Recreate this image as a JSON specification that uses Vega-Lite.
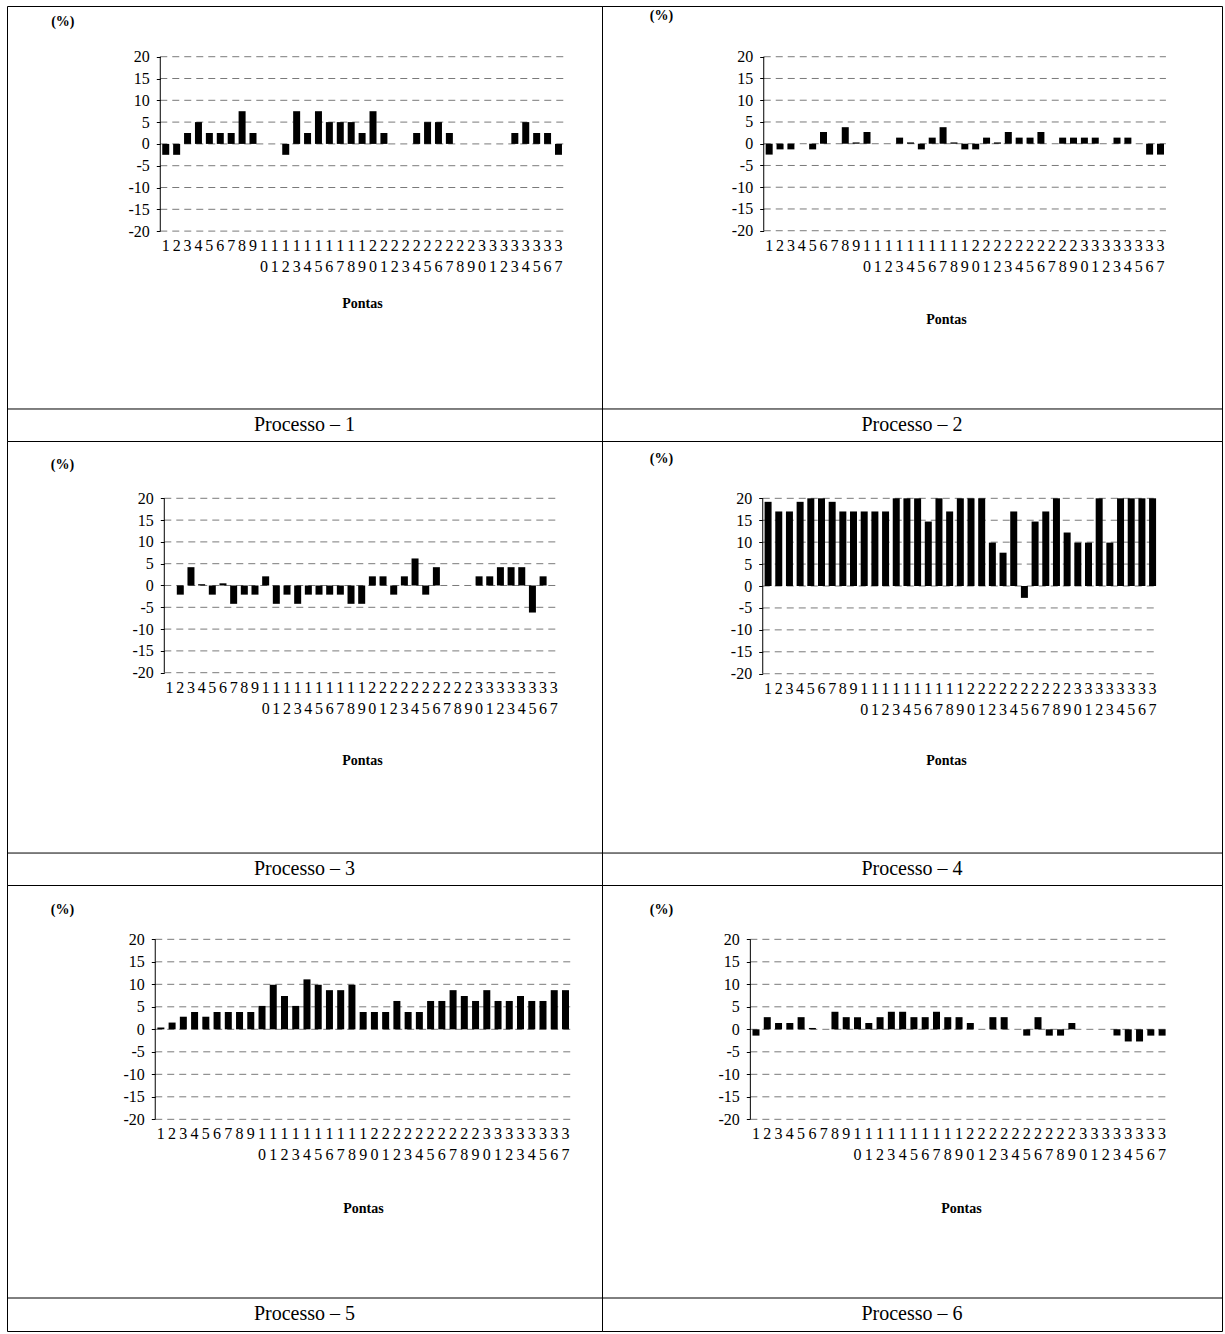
{
  "$schema": "https://vega.github.io/schema/vega-lite/v6.json",
  "background": "white",
  "padding": {"left": 6, "top": 5, "right": 0, "bottom": 0},
  "spacing": 0,
  "bounds": "flush",
  "align": "each",
  "columns": 2,
  "datasets": {
    "grid": [{"g": -20}, {"g": -15}, {"g": -10}, {"g": -5}, {"g": 0}, {"g": 5}, {"g": 10}, {"g": 15}, {"g": 20}],
    "p1": [{"n":1,"v":-2.5},{"n":2,"v":-2.5},{"n":3,"v":2.5},{"n":4,"v":5},{"n":5,"v":2.5},{"n":6,"v":2.5},{"n":7,"v":2.5},{"n":8,"v":7.5},{"n":9,"v":2.5},{"n":10,"v":0},{"n":11,"v":0},{"n":12,"v":-2.5},{"n":13,"v":7.5},{"n":14,"v":2.5},{"n":15,"v":7.5},{"n":16,"v":5},{"n":17,"v":5},{"n":18,"v":5},{"n":19,"v":2.5},{"n":20,"v":7.5},{"n":21,"v":2.5},{"n":22,"v":0},{"n":23,"v":0},{"n":24,"v":2.5},{"n":25,"v":5},{"n":26,"v":5},{"n":27,"v":2.5},{"n":28,"v":0},{"n":29,"v":0},{"n":30,"v":0},{"n":31,"v":0},{"n":32,"v":0},{"n":33,"v":2.5},{"n":34,"v":5},{"n":35,"v":2.5},{"n":36,"v":2.5},{"n":37,"v":-2.5}],
    "p2": [{"n":1,"v":-2.5},{"n":2,"v":-1.3},{"n":3,"v":-1.3},{"n":4,"v":0},{"n":5,"v":-1.3},{"n":6,"v":2.7},{"n":7,"v":0},{"n":8,"v":3.8},{"n":9,"v":0.3},{"n":10,"v":2.7},{"n":11,"v":0},{"n":12,"v":0},{"n":13,"v":1.4},{"n":14,"v":0.3},{"n":15,"v":-1.3},{"n":16,"v":1.4},{"n":17,"v":3.8},{"n":18,"v":0.3},{"n":19,"v":-1.3},{"n":20,"v":-1.3},{"n":21,"v":1.4},{"n":22,"v":0.3},{"n":23,"v":2.7},{"n":24,"v":1.4},{"n":25,"v":1.4},{"n":26,"v":2.7},{"n":27,"v":0},{"n":28,"v":1.4},{"n":29,"v":1.4},{"n":30,"v":1.4},{"n":31,"v":1.4},{"n":32,"v":0},{"n":33,"v":1.4},{"n":34,"v":1.4},{"n":35,"v":0},{"n":36,"v":-2.5},{"n":37,"v":-2.5}],
    "p3": [{"n":1,"v":0},{"n":2,"v":-2.1},{"n":3,"v":4.2},{"n":4,"v":0.3},{"n":5,"v":-2.1},{"n":6,"v":0.5},{"n":7,"v":-4.2},{"n":8,"v":-2.1},{"n":9,"v":-2.1},{"n":10,"v":2.1},{"n":11,"v":-4.2},{"n":12,"v":-2.1},{"n":13,"v":-4.2},{"n":14,"v":-2.1},{"n":15,"v":-2.1},{"n":16,"v":-2.1},{"n":17,"v":-2.1},{"n":18,"v":-4.2},{"n":19,"v":-4.2},{"n":20,"v":2.1},{"n":21,"v":2.1},{"n":22,"v":-2.1},{"n":23,"v":2.1},{"n":24,"v":6.2},{"n":25,"v":-2.1},{"n":26,"v":4.2},{"n":27,"v":0},{"n":28,"v":0},{"n":29,"v":0},{"n":30,"v":2.1},{"n":31,"v":2.1},{"n":32,"v":4.2},{"n":33,"v":4.2},{"n":34,"v":4.2},{"n":35,"v":-6.2},{"n":36,"v":2.1},{"n":37,"v":0}],
    "p4": [{"n":1,"v":19.2},{"n":2,"v":17},{"n":3,"v":17},{"n":4,"v":19.2},{"n":5,"v":20},{"n":6,"v":20},{"n":7,"v":19.2},{"n":8,"v":17},{"n":9,"v":17},{"n":10,"v":17},{"n":11,"v":17},{"n":12,"v":17},{"n":13,"v":20},{"n":14,"v":20},{"n":15,"v":20},{"n":16,"v":14.7},{"n":17,"v":20},{"n":18,"v":17},{"n":19,"v":20},{"n":20,"v":20},{"n":21,"v":20},{"n":22,"v":9.9},{"n":23,"v":7.6},{"n":24,"v":17},{"n":25,"v":-2.7},{"n":26,"v":14.7},{"n":27,"v":17},{"n":28,"v":20},{"n":29,"v":12.2},{"n":30,"v":9.9},{"n":31,"v":9.9},{"n":32,"v":20},{"n":33,"v":9.9},{"n":34,"v":20},{"n":35,"v":20},{"n":36,"v":20},{"n":37,"v":20}],
    "p5": [{"n":1,"v":0.4},{"n":2,"v":1.5},{"n":3,"v":2.8},{"n":4,"v":3.85},{"n":5,"v":2.8},{"n":6,"v":3.85},{"n":7,"v":3.85},{"n":8,"v":3.85},{"n":9,"v":3.85},{"n":10,"v":5.2},{"n":11,"v":9.9},{"n":12,"v":7.4},{"n":13,"v":5.2},{"n":14,"v":11.1},{"n":15,"v":9.9},{"n":16,"v":8.7},{"n":17,"v":8.7},{"n":18,"v":9.9},{"n":19,"v":3.85},{"n":20,"v":3.85},{"n":21,"v":3.85},{"n":22,"v":6.3},{"n":23,"v":3.85},{"n":24,"v":3.85},{"n":25,"v":6.3},{"n":26,"v":6.3},{"n":27,"v":8.7},{"n":28,"v":7.4},{"n":29,"v":6.3},{"n":30,"v":8.7},{"n":31,"v":6.3},{"n":32,"v":6.3},{"n":33,"v":7.4},{"n":34,"v":6.3},{"n":35,"v":6.3},{"n":36,"v":8.7},{"n":37,"v":8.7}],
    "p6": [{"n":1,"v":-1.4},{"n":2,"v":2.7},{"n":3,"v":1.4},{"n":4,"v":1.4},{"n":5,"v":2.7},{"n":6,"v":0.3},{"n":7,"v":0},{"n":8,"v":3.9},{"n":9,"v":2.7},{"n":10,"v":2.7},{"n":11,"v":1.4},{"n":12,"v":2.7},{"n":13,"v":3.9},{"n":14,"v":3.9},{"n":15,"v":2.7},{"n":16,"v":2.7},{"n":17,"v":3.9},{"n":18,"v":2.7},{"n":19,"v":2.7},{"n":20,"v":1.4},{"n":21,"v":0},{"n":22,"v":2.7},{"n":23,"v":2.7},{"n":24,"v":0},{"n":25,"v":-1.4},{"n":26,"v":2.7},{"n":27,"v":-1.4},{"n":28,"v":-1.4},{"n":29,"v":1.4},{"n":30,"v":0},{"n":31,"v":0},{"n":32,"v":0},{"n":33,"v":-1.4},{"n":34,"v":-2.7},{"n":35,"v":-2.7},{"n":36,"v":-1.4},{"n":37,"v":-1.4}]
  },
  "concat": [
    {
      "width": 595, "height": 435,
      "layer": [
        {"data": {"name": "grid"}, "mark": {"type": "rule", "color": "#7a7a7a", "strokeDash": [7, 5]},
         "encoding": {"y": {"field": "g", "type": "quantitative"}, "x": {"datum": 0.5, "type": "quantitative"}, "x2": {"datum": 37.5}}},
        {"data": {"name": "p1"}, "mark": {"type": "bar", "orient": "vertical", "size": 7, "color": "black"},
         "encoding": {
           "x": {"field": "n", "type": "quantitative", "scale": {"domain": [-13.55, 40.99], "nice": false, "zero": false, "padding": 0}, "axis": {"orient": "bottom", "offset": -209.9, "values": [1, 37], "labels": false, "domain": false, "ticks": false, "grid": false, "title": "Pontas", "titleX": 355, "titleY": 72, "titleAlign": "center", "titleBaseline": "middle", "titleFontSize": 14, "titleFontWeight": "bold"}},
           "y": {"field": "v", "type": "quantitative", "scale": {"domain": [-68.14, 31.63], "nice": false, "zero": false}, "axis": {"orient": "left", "offset": -153.3, "values": [-20,-15,-10,-5,0,5,10,15,20], "labelExpr": "datum.value < 0 ? '-' + (-datum.value) : '' + datum.value", "domain": false, "ticks": true, "tickSize": 4, "tickColor": "black", "grid": false, "labelPadding": 7, "labelOverlap": false, "title": "(%)", "titleAngle": 0, "titleX": -98, "titleY": 15, "titleAlign": "center", "titleBaseline": "middle", "titleFontSize": 14, "titleFontWeight": "bold"}}
         }},
        {"data": {"name": "p1"}, "mark": {"type": "text", "baseline": "top", "align": "center", "fontSize": 16, "lineHeight": 21, "color": "black", "text": {"expr": "datum.n > 9 ? [substring('' + datum.n, 0, 1), substring('' + datum.n, 1, 2)] : '' + datum.n"}},
         "encoding": {"x": {"field": "n", "type": "quantitative"}, "y": {"datum": -21.6, "type": "quantitative"}}},
        {"data": {"values": [{}]}, "mark": {"type": "rule", "color": "black"},
         "encoding": {"x": {"datum": 0.5, "type": "quantitative"}, "y": {"datum": -20, "type": "quantitative"}, "y2": {"datum": 20}}},
        {"data": {"values": [{"t": "Processo – 1"}]}, "mark": {"type": "rule", "color": "black"},
         "encoding": {"y": {"datum": -60.8, "type": "quantitative"}}},
        {"data": {"values": [{"t": "Processo – 1"}]}, "mark": {"type": "text", "fontSize": 20, "color": "black", "baseline": "middle"},
         "encoding": {"y": {"datum": -64.47, "type": "quantitative"}, "text": {"field": "t"}}}
      ]
    },
    {
      "width": 620, "height": 435,
      "layer": [
        {"data": {"name": "grid"}, "mark": {"type": "rule", "color": "#7a7a7a", "strokeDash": [7, 5]},
         "encoding": {"y": {"field": "g", "type": "quantitative"}, "x": {"datum": 0.5, "type": "quantitative"}, "x2": {"datum": 37.5}}},
        {"data": {"name": "p2"}, "mark": {"type": "bar", "orient": "vertical", "size": 7, "color": "black"},
         "encoding": {
           "x": {"field": "n", "type": "quantitative", "scale": {"domain": [-14.38, 42.66], "nice": false, "zero": false, "padding": 0}, "axis": {"orient": "bottom", "offset": -210.3, "values": [1, 37], "labels": false, "domain": false, "ticks": false, "grid": false, "title": "Pontas", "titleX": 344, "titleY": 89, "titleAlign": "center", "titleBaseline": "middle", "titleFontSize": 14, "titleFontWeight": "bold"}},
           "y": {"field": "v", "type": "quantitative", "scale": {"domain": [-68.34, 31.66], "nice": false, "zero": false}, "axis": {"orient": "left", "offset": -161.7, "values": [-20,-15,-10,-5,0,5,10,15,20], "labelExpr": "datum.value < 0 ? '-' + (-datum.value) : '' + datum.value", "domain": false, "ticks": true, "tickSize": 4, "tickColor": "black", "grid": false, "labelPadding": 7, "labelOverlap": false, "title": "(%)", "titleAngle": 0, "titleX": -102.7, "titleY": 9, "titleAlign": "center", "titleBaseline": "middle", "titleFontSize": 14, "titleFontWeight": "bold"}}
         }},
        {"data": {"name": "p2"}, "mark": {"type": "text", "baseline": "top", "align": "center", "fontSize": 16, "lineHeight": 21, "color": "black", "text": {"expr": "datum.n > 9 ? [substring('' + datum.n, 0, 1), substring('' + datum.n, 1, 2)] : '' + datum.n"}},
         "encoding": {"x": {"field": "n", "type": "quantitative"}, "y": {"datum": -21.6, "type": "quantitative"}}},
        {"data": {"values": [{}]}, "mark": {"type": "rule", "color": "black"},
         "encoding": {"x": {"datum": 0.5, "type": "quantitative"}, "y": {"datum": -20, "type": "quantitative"}, "y2": {"datum": 20}}},
        {"data": {"values": [{"t": "Processo – 2"}]}, "mark": {"type": "rule", "color": "black"},
         "encoding": {"y": {"datum": -60.98, "type": "quantitative"}}},
        {"data": {"values": [{"t": "Processo – 2"}]}, "mark": {"type": "text", "fontSize": 20, "color": "black", "baseline": "middle"},
         "encoding": {"y": {"datum": -64.66, "type": "quantitative"}, "text": {"field": "t"}}}
      ]
    },
    {
      "width": 595, "height": 444,
      "layer": [
        {"data": {"name": "grid"}, "mark": {"type": "rule", "color": "#7a7a7a", "strokeDash": [7, 5]},
         "encoding": {"y": {"field": "g", "type": "quantitative"}, "x": {"datum": 0.5, "type": "quantitative"}, "x2": {"datum": 37.5}}},
        {"data": {"name": "p3"}, "mark": {"type": "bar", "orient": "vertical", "size": 7, "color": "black"},
         "encoding": {
           "x": {"field": "n", "type": "quantitative", "scale": {"domain": [-14.24, 41.52], "nice": false, "zero": false, "padding": 0}, "axis": {"orient": "bottom", "offset": -212.3, "values": [1, 37], "labels": false, "domain": false, "ticks": false, "grid": false, "title": "Pontas", "titleX": 355, "titleY": 88, "titleAlign": "center", "titleBaseline": "middle", "titleFontSize": 14, "titleFontWeight": "bold"}},
           "y": {"field": "v", "type": "quantitative", "scale": {"domain": [-68.69, 33.14], "nice": false, "zero": false}, "axis": {"orient": "left", "offset": -157.3, "values": [-20,-15,-10,-5,0,5,10,15,20], "labelExpr": "datum.value < 0 ? '-' + (-datum.value) : '' + datum.value", "domain": false, "ticks": true, "tickSize": 4, "tickColor": "black", "grid": false, "labelPadding": 7, "labelOverlap": false, "title": "(%)", "titleAngle": 0, "titleX": -102.3, "titleY": 23, "titleAlign": "center", "titleBaseline": "middle", "titleFontSize": 14, "titleFontWeight": "bold"}}
         }},
        {"data": {"name": "p3"}, "mark": {"type": "text", "baseline": "top", "align": "center", "fontSize": 16, "lineHeight": 21, "color": "black", "text": {"expr": "datum.n > 9 ? [substring('' + datum.n, 0, 1), substring('' + datum.n, 1, 2)] : '' + datum.n"}},
         "encoding": {"x": {"field": "n", "type": "quantitative"}, "y": {"datum": -21.6, "type": "quantitative"}}},
        {"data": {"values": [{}]}, "mark": {"type": "rule", "color": "black"},
         "encoding": {"x": {"datum": 0.5, "type": "quantitative"}, "y": {"datum": -20, "type": "quantitative"}, "y2": {"datum": 20}}},
        {"data": {"values": [{"t": "Processo – 3"}]}, "mark": {"type": "rule", "color": "black"},
         "encoding": {"y": {"datum": -61.36, "type": "quantitative"}}},
        {"data": {"values": [{"t": "Processo – 3"}]}, "mark": {"type": "text", "fontSize": 20, "color": "black", "baseline": "middle"},
         "encoding": {"y": {"datum": -65.03, "type": "quantitative"}, "text": {"field": "t"}}}
      ]
    },
    {
      "width": 620, "height": 444,
      "layer": [
        {"data": {"name": "grid"}, "mark": {"type": "rule", "color": "#7a7a7a", "strokeDash": [7, 5]},
         "encoding": {"y": {"field": "g", "type": "quantitative"}, "x": {"datum": 0.5, "type": "quantitative"}, "x2": {"datum": 37.5}}},
        {"data": {"name": "p4"}, "mark": {"type": "bar", "orient": "vertical", "size": 7, "color": "black"},
         "encoding": {
           "x": {"field": "n", "type": "quantitative", "scale": {"domain": [-14.55, 43.5], "nice": false, "zero": false, "padding": 0}, "axis": {"orient": "bottom", "offset": -211.3, "values": [1, 37], "labels": false, "domain": false, "ticks": false, "grid": false, "title": "Pontas", "titleX": 344, "titleY": 87, "titleAlign": "center", "titleBaseline": "middle", "titleFontSize": 14, "titleFontWeight": "bold"}},
           "y": {"field": "v", "type": "quantitative", "scale": {"domain": [-68.18, 33.07], "nice": false, "zero": false}, "axis": {"orient": "left", "offset": -160.7, "values": [-20,-15,-10,-5,0,5,10,15,20], "labelExpr": "datum.value < 0 ? '-' + (-datum.value) : '' + datum.value", "domain": false, "ticks": true, "tickSize": 4, "tickColor": "black", "grid": false, "labelPadding": 7, "labelOverlap": false, "title": "(%)", "titleAngle": 0, "titleX": -101.7, "titleY": 17, "titleAlign": "center", "titleBaseline": "middle", "titleFontSize": 14, "titleFontWeight": "bold"}}
         }},
        {"data": {"name": "p4"}, "mark": {"type": "text", "baseline": "top", "align": "center", "fontSize": 16, "lineHeight": 21, "color": "black", "text": {"expr": "datum.n > 9 ? [substring('' + datum.n, 0, 1), substring('' + datum.n, 1, 2)] : '' + datum.n"}},
         "encoding": {"x": {"field": "n", "type": "quantitative"}, "y": {"datum": -21.6, "type": "quantitative"}}},
        {"data": {"values": [{}]}, "mark": {"type": "rule", "color": "black"},
         "encoding": {"x": {"datum": 0.5, "type": "quantitative"}, "y": {"datum": -20, "type": "quantitative"}, "y2": {"datum": 20}}},
        {"data": {"values": [{"t": "Processo – 4"}]}, "mark": {"type": "rule", "color": "black"},
         "encoding": {"y": {"datum": -60.89, "type": "quantitative"}}},
        {"data": {"values": [{"t": "Processo – 4"}]}, "mark": {"type": "text", "fontSize": 20, "color": "black", "baseline": "middle"},
         "encoding": {"y": {"datum": -64.54, "type": "quantitative"}, "text": {"field": "t"}}}
      ]
    },
    {
      "width": 595, "height": 446,
      "layer": [
        {"data": {"name": "grid"}, "mark": {"type": "rule", "color": "#7a7a7a", "strokeDash": [7, 5]},
         "encoding": {"y": {"field": "g", "type": "quantitative"}, "x": {"datum": 0.5, "type": "quantitative"}, "x2": {"datum": 37.5}}},
        {"data": {"name": "p5"}, "mark": {"type": "bar", "orient": "vertical", "size": 7, "color": "black"},
         "encoding": {
           "x": {"field": "n", "type": "quantitative", "scale": {"domain": [-12.69, 40.25], "nice": false, "zero": false, "padding": 0}, "axis": {"orient": "bottom", "offset": -211.7, "values": [1, 37], "labels": false, "domain": false, "ticks": false, "grid": false, "title": "Pontas", "titleX": 356, "titleY": 89, "titleAlign": "center", "titleBaseline": "middle", "titleFontSize": 14, "titleFontWeight": "bold"}},
           "y": {"field": "v", "type": "quantitative", "scale": {"domain": [-67.04, 32.07], "nice": false, "zero": false}, "axis": {"orient": "left", "offset": -148.3, "values": [-20,-15,-10,-5,0,5,10,15,20], "labelExpr": "datum.value < 0 ? '-' + (-datum.value) : '' + datum.value", "domain": false, "ticks": true, "tickSize": 4, "tickColor": "black", "grid": false, "labelPadding": 7, "labelOverlap": false, "title": "(%)", "titleAngle": 0, "titleX": -93.3, "titleY": 24, "titleAlign": "center", "titleBaseline": "middle", "titleFontSize": 14, "titleFontWeight": "bold"}}
         }},
        {"data": {"name": "p5"}, "mark": {"type": "text", "baseline": "top", "align": "center", "fontSize": 16, "lineHeight": 21, "color": "black", "text": {"expr": "datum.n > 9 ? [substring('' + datum.n, 0, 1), substring('' + datum.n, 1, 2)] : '' + datum.n"}},
         "encoding": {"x": {"field": "n", "type": "quantitative"}, "y": {"datum": -21.56, "type": "quantitative"}}},
        {"data": {"values": [{}]}, "mark": {"type": "rule", "color": "black"},
         "encoding": {"x": {"datum": 0.5, "type": "quantitative"}, "y": {"datum": -20, "type": "quantitative"}, "y2": {"datum": 20}}},
        {"data": {"values": [{"t": "Processo – 5"}]}, "mark": {"type": "rule", "color": "black"},
         "encoding": {"y": {"datum": -59.71, "type": "quantitative"}}},
        {"data": {"values": [{"t": "Processo – 5"}]}, "mark": {"type": "text", "fontSize": 20, "color": "black", "baseline": "middle"},
         "encoding": {"y": {"datum": -63.26, "type": "quantitative"}, "text": {"field": "t"}}}
      ]
    },
    {
      "width": 620, "height": 446,
      "layer": [
        {"data": {"name": "grid"}, "mark": {"type": "rule", "color": "#7a7a7a", "strokeDash": [7, 5]},
         "encoding": {"y": {"field": "g", "type": "quantitative"}, "x": {"datum": 0.5, "type": "quantitative"}, "x2": {"datum": 37.5}}},
        {"data": {"name": "p6"}, "mark": {"type": "bar", "orient": "vertical", "size": 7, "color": "black"},
         "encoding": {
           "x": {"field": "n", "type": "quantitative", "scale": {"domain": [-12.65, 42.31], "nice": false, "zero": false, "padding": 0}, "axis": {"orient": "bottom", "offset": -211.7, "values": [1, 37], "labels": false, "domain": false, "ticks": false, "grid": false, "title": "Pontas", "titleX": 359, "titleY": 89, "titleAlign": "center", "titleBaseline": "middle", "titleFontSize": 14, "titleFontWeight": "bold"}},
           "y": {"field": "v", "type": "quantitative", "scale": {"domain": [-67.04, 32.07], "nice": false, "zero": false}, "axis": {"orient": "left", "offset": -148.3, "values": [-20,-15,-10,-5,0,5,10,15,20], "labelExpr": "datum.value < 0 ? '-' + (-datum.value) : '' + datum.value", "domain": false, "ticks": true, "tickSize": 4, "tickColor": "black", "grid": false, "labelPadding": 7, "labelOverlap": false, "title": "(%)", "titleAngle": 0, "titleX": -89.3, "titleY": 24, "titleAlign": "center", "titleBaseline": "middle", "titleFontSize": 14, "titleFontWeight": "bold"}}
         }},
        {"data": {"name": "p6"}, "mark": {"type": "text", "baseline": "top", "align": "center", "fontSize": 16, "lineHeight": 21, "color": "black", "text": {"expr": "datum.n > 9 ? [substring('' + datum.n, 0, 1), substring('' + datum.n, 1, 2)] : '' + datum.n"}},
         "encoding": {"x": {"field": "n", "type": "quantitative"}, "y": {"datum": -21.56, "type": "quantitative"}}},
        {"data": {"values": [{}]}, "mark": {"type": "rule", "color": "black"},
         "encoding": {"x": {"datum": 0.5, "type": "quantitative"}, "y": {"datum": -20, "type": "quantitative"}, "y2": {"datum": 20}}},
        {"data": {"values": [{"t": "Processo – 6"}]}, "mark": {"type": "rule", "color": "black"},
         "encoding": {"y": {"datum": -59.71, "type": "quantitative"}}},
        {"data": {"values": [{"t": "Processo – 6"}]}, "mark": {"type": "text", "fontSize": 20, "color": "black", "baseline": "middle"},
         "encoding": {"y": {"datum": -63.26, "type": "quantitative"}, "text": {"field": "t"}}}
      ]
    }
  ],
  "config": {
    "view": {"stroke": "black", "strokeWidth": 1},
    "axis": {"labelFont": "Liberation Serif", "titleFont": "Liberation Serif", "labelColor": "black", "titleColor": "black", "labelFontSize": 16},
    "text": {"font": "Liberation Serif"}
  }
}
